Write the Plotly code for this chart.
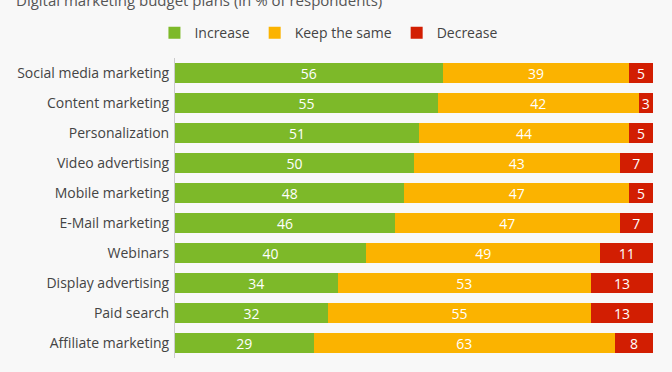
import plotly.graph_objects as go

categories = ["Social media marketing", "Content marketing", "Personalization",
              "Video advertising", "Mobile marketing", "E-Mail marketing",
              "Webinars", "Display advertising", "Paid search", "Affiliate marketing"]
increase = [56, 55, 51, 50, 48, 46, 40, 34, 32, 29]
keep_same = [39, 42, 44, 43, 47, 47, 49, 53, 55, 63]
decrease = [5, 3, 5, 7, 5, 7, 11, 13, 13, 8]

series = [("Increase", increase, "#7db929"),
          ("Keep the same", keep_same, "#fbb300"),
          ("Decrease", decrease, "#d21e02")]

fig = go.Figure()
for name, vals, color in series:
    fig.add_trace(go.Bar(
        y=categories, x=vals, name=name, orientation="h",
        marker=dict(color=color, line=dict(width=0)),
        text=[str(v) for v in vals], textposition="inside",
        insidetextanchor="middle", textangle=0, constraintext="none",
        textfont=dict(color="white", size=14, family="Open Sans"),
        hoverinfo="skip",
    ))

fig.update_layout(
    barmode="stack",
    bargap=0.35,
    width=672, height=372,
    margin=dict(l=175, r=19, t=58, b=14, autoexpand=False),
    paper_bgcolor="#f8f8f8",
    plot_bgcolor="#f8f8f8",
    font=dict(family="Open Sans", color="#444444", size=14),
    uniformtext=dict(mode="show", minsize=10),
    xaxis=dict(range=[0, 100], visible=False, fixedrange=True),
    yaxis=dict(autorange="reversed", showgrid=False, ticks="", automargin=False,
               ticklabelstandoff=2,
               showline=True, linecolor="#cccccc", linewidth=1,
               tickfont=dict(size=14, color="#444444", family="Open Sans")),
    legend=dict(orientation="h", x=-0.043, xanchor="left", y=1.083, yanchor="middle",
                yref="paper", font=dict(size=14, color="#444444"),
                bgcolor="rgba(0,0,0,0)", traceorder="normal", itemwidth=30),
    showlegend=True,
)
fig.add_annotation(
    text="Digital marketing budget plans (in % of respondents)",
    xref="paper", yref="paper", x=-0.337, y=1.0, xanchor="left", yanchor="bottom",
    yshift=46, showarrow=False,
    font=dict(size=15, color="#555555", family="Open Sans"),
)

fig.write_html("out.html", config={"displayModeBar": False},
               post_script="document.body.style.margin='0';document.body.style.background='#f8f8f8';")
